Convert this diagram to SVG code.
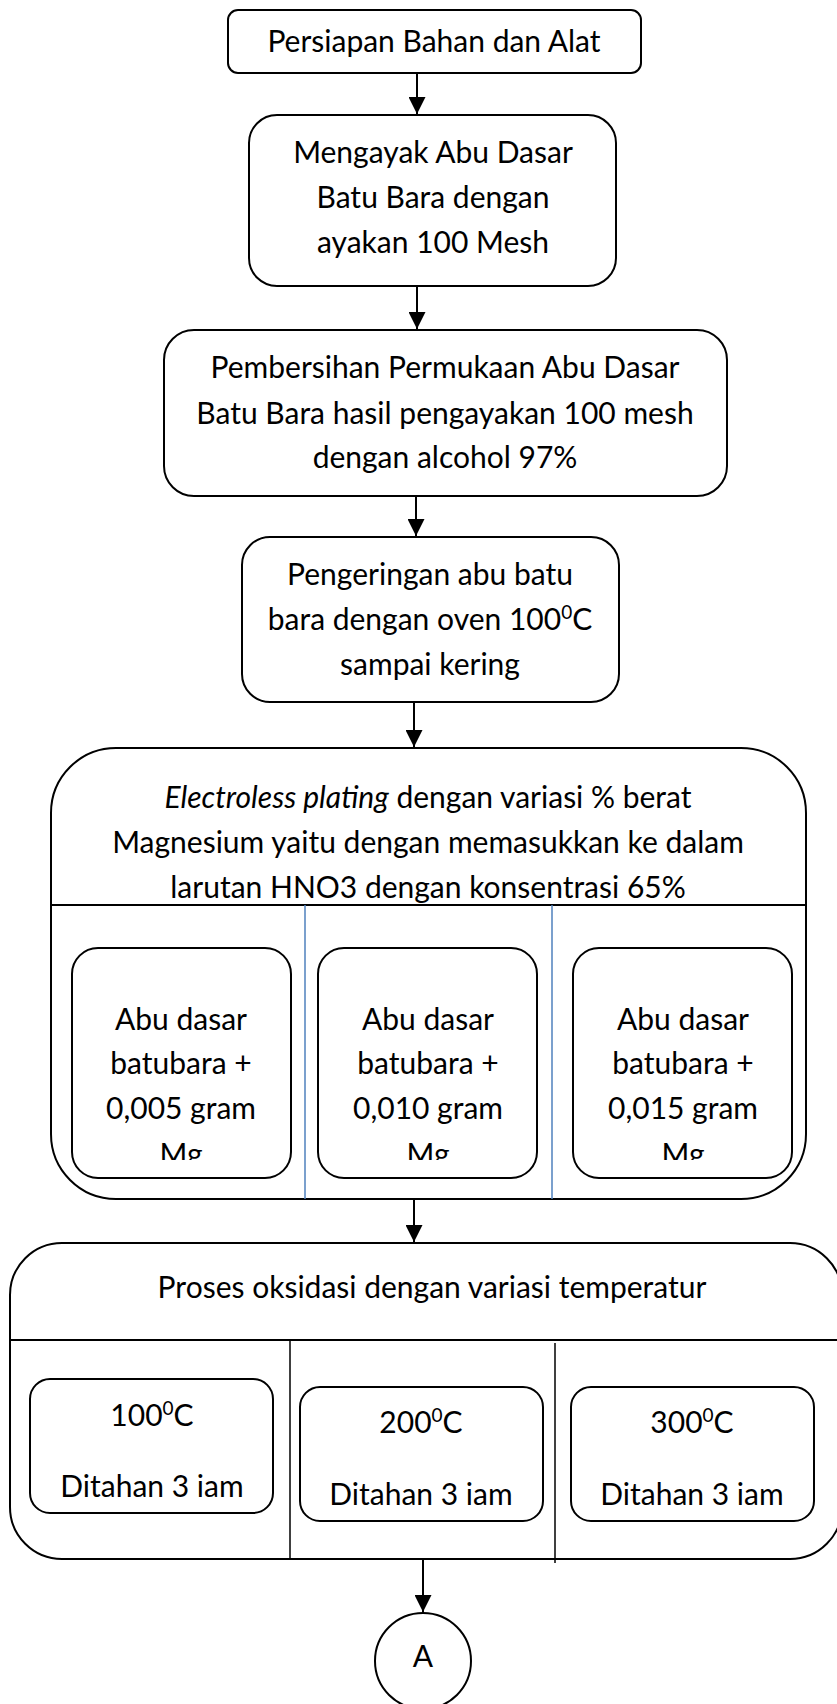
<svg xmlns="http://www.w3.org/2000/svg" width="837" height="1704" viewBox="0 0 837 1704">
<style>
  .box { fill: #ffffff; stroke: #000000; stroke-width: 2; }
  .div { stroke: #000000; stroke-width: 2; fill: none; }
  .thin { stroke: #000000; stroke-width: 1.5; fill: none; }
  .blue { stroke: #4F81BD; stroke-width: 1.5; fill: none; }
  .conn { stroke: #000000; stroke-width: 2; fill: none; marker-end: url(#arrow); }
  text { font-family: Lato, "Open Sans", "Liberation Sans", sans-serif; font-size: 30px; fill: #000000; text-anchor: middle; }
  .sup { font-size: 19px; }
</style>
<defs>
  <marker id="arrow" viewBox="0 0 10 10" refX="10" refY="5" markerWidth="17" markerHeight="17" markerUnits="userSpaceOnUse" orient="auto">
    <path d="M0,0 L10,5 L0,10 z" fill="#000000"/>
  </marker>
  <clipPath id="clipMg">
    <rect x="0" y="1100" width="837" height="60"/>
  </clipPath>
</defs>

<g id="node-persiapan">
  <rect class="box" x="228" y="10" width="413" height="63" rx="10"/>
  <text x="434" y="52">Persiapan Bahan dan Alat</text>
</g>

<g id="node-mengayak">
  <rect class="box" x="249" y="115" width="367" height="171" rx="28"/>
  <text x="433" y="163">Mengayak Abu Dasar</text>
  <text x="433" y="208">Batu Bara dengan</text>
  <text x="433" y="253">ayakan 100 Mesh</text>
</g>

<g id="node-pembersihan">
  <rect class="box" x="164" y="330" width="563" height="166" rx="30"/>
  <text x="445" y="378">Pembersihan Permukaan Abu Dasar</text>
  <text x="445" y="424">Batu Bara hasil pengayakan 100 mesh</text>
  <text x="445" y="468">dengan alcohol 97%</text>
</g>

<g id="node-pengeringan">
  <rect class="box" x="242" y="537" width="377" height="165" rx="28"/>
  <text x="430" y="585">Pengeringan abu batu</text>
  <text x="430" y="630">bara dengan oven 100<tspan class="sup" dy="-11">0</tspan><tspan dy="11">C</tspan></text>
  <text x="430" y="675">sampai kering</text>
</g>

<g id="node-electroless">
  <rect class="box" x="51" y="748" width="755" height="451" rx="65"/>
  <line class="div" x1="51" y1="905" x2="806" y2="905"/>
  <line class="blue" x1="305" y1="905" x2="305" y2="1199"/>
  <line class="blue" x1="552" y1="905" x2="552" y2="1199"/>
  <text x="428" y="808"><tspan font-style="italic">Electroless plating</tspan> dengan variasi % berat</text>
  <text x="428" y="853">Magnesium yaitu dengan memasukkan ke dalam</text>
  <text x="428" y="898">larutan HNO3 dengan konsentrasi 65%</text>
</g>

<g id="node-mg-005">
  <rect class="box" x="72" y="948" width="219" height="230" rx="26"/>
  <text x="181" y="1030">Abu dasar</text>
  <text x="181" y="1074">batubara +</text>
  <text x="181" y="1119">0,005 gram</text>
  <text x="181" y="1165" clip-path="url(#clipMg)">Mg</text>
</g>

<g id="node-mg-010">
  <rect class="box" x="318" y="948" width="219" height="230" rx="26"/>
  <text x="428" y="1030">Abu dasar</text>
  <text x="428" y="1074">batubara +</text>
  <text x="428" y="1119">0,010 gram</text>
  <text x="428" y="1165" clip-path="url(#clipMg)">Mg</text>
</g>

<g id="node-mg-015">
  <rect class="box" x="573" y="948" width="219" height="230" rx="26"/>
  <text x="683" y="1030">Abu dasar</text>
  <text x="683" y="1074">batubara +</text>
  <text x="683" y="1119">0,015 gram</text>
  <text x="683" y="1165" clip-path="url(#clipMg)">Mg</text>
</g>

<g id="node-oksidasi">
  <rect class="box" x="10" y="1243" width="832" height="316" rx="52"/>
  <line class="div" x1="10" y1="1340" x2="837" y2="1340"/>
  <line class="thin" x1="290" y1="1340" x2="290" y2="1559"/>
  <line class="thin" x1="555" y1="1343" x2="555" y2="1563"/>
  <text x="432" y="1298">Proses oksidasi dengan variasi temperatur</text>
</g>

<g id="node-100c">
  <rect class="box" x="30" y="1379" width="243" height="134" rx="20"/>
  <text x="152" y="1426">100<tspan class="sup" dy="-11">0</tspan><tspan dy="11">C</tspan></text>
  <text x="152" y="1497">Ditahan 3 iam</text>
</g>

<g id="node-200c">
  <rect class="box" x="300" y="1387" width="243" height="134" rx="20"/>
  <text x="421" y="1433">200<tspan class="sup" dy="-11">0</tspan><tspan dy="11">C</tspan></text>
  <text x="421" y="1505">Ditahan 3 iam</text>
</g>

<g id="node-300c">
  <rect class="box" x="571" y="1387" width="243" height="134" rx="20"/>
  <text x="692" y="1433">300<tspan class="sup" dy="-11">0</tspan><tspan dy="11">C</tspan></text>
  <text x="692" y="1505">Ditahan 3 iam</text>
</g>

<g id="node-a">
  <circle class="box" cx="423" cy="1661" r="48"/>
  <text x="423" y="1667">A</text>
</g>

<g id="connectors">
  <line class="conn" x1="417" y1="73" x2="417" y2="114"/>
  <line class="conn" x1="417" y1="286" x2="417" y2="329"/>
  <line class="conn" x1="416" y1="496" x2="416" y2="536"/>
  <line class="conn" x1="414" y1="702" x2="414" y2="747"/>
  <line class="conn" x1="414" y1="1199" x2="414" y2="1242"/>
  <line class="conn" x1="423" y1="1559" x2="423" y2="1612"/>
</g>
</svg>
